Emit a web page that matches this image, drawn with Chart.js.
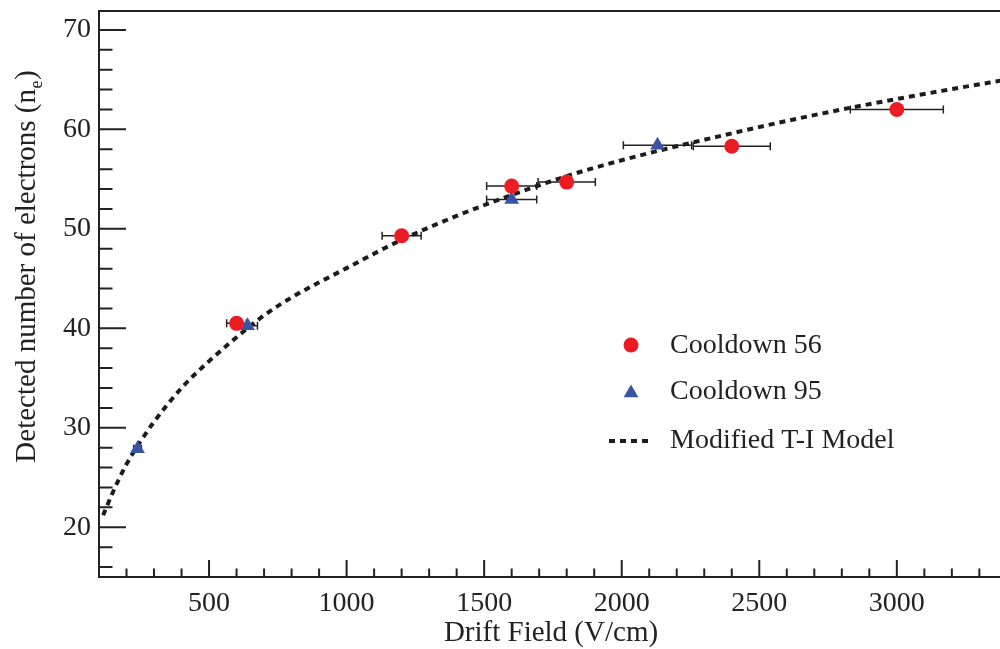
<!DOCTYPE html>
<html>
<head>
<meta charset="utf-8">
<title>Detected number of electrons vs drift field</title>
<script src="https://cdn.jsdelivr.net/npm/chart.js"></script>
<style>
  body { margin: 0; background: #fff; }
</style>
</head>
<body>
<canvas id="chart" width="1000" height="649"></canvas>
<script>
  // Cooldown 56 (red circles)
  var c56Field = [600, 1200, 1600, 1800, 2400, 3000];
  var c56Ne = [40.5, 49.3, 54.3, 54.7, 58.3, 62.0];
  var c56FieldErr = [36, 71, 91, 104, 140, 169];

  // Cooldown 95 (blue triangles)
  var c95Field = [240, 640, 1600, 2130];
  var c95Ne = [27.9, 40.25, 52.95, 58.4];
  var c95FieldErr = [14, 36, 91, 124];

  // Modified T-I model
  var modelField = [115, 150, 200, 250, 300, 400, 500, 600, 700, 800, 1000, 1200, 1400, 1600, 1800, 2000, 2200, 2400, 2600, 2800, 3000, 3200, 3400];
  var modelNe = [21.2, 23.5, 26.35, 28.6, 30.6, 34.0, 36.7, 39.1, 41.3, 43.1, 46.05, 48.9, 51.3, 53.4, 55.3, 56.9, 58.3, 59.6, 60.85, 62.0, 63.05, 64.05, 65.0];

  var xTicks = [500, 1000, 1500, 2000, 2500, 3000];
  var yTicks = [20, 30, 40, 50, 60, 70];

  var serif = '"Liberation Serif", "Times New Roman", serif';
  var ink = '#222';
  var red = '#ec1c24';
  var blue = '#3a54a4';

  function points(xs, ys) {
    return xs.map(function(x, i) { return { x: x, y: ys[i] }; });
  }

  function noPadding(s) {
    s.paddingTop = 0; s.paddingBottom = 0; s.paddingLeft = 0; s.paddingRight = 0;
  }

  // horizontal error bars with end caps
  var errorBars = {
    id: 'errorBars',
    beforeDatasetsDraw: function(chart) {
      var ctx = chart.ctx, xs = chart.scales.x, ys = chart.scales.y;
      ctx.save();
      ctx.strokeStyle = ink;
      ctx.lineWidth = 1.5;
      chart.data.datasets.forEach(function(ds) {
        if (!ds.xErr) return;
        ds.data.forEach(function(p, i) {
          var x0 = xs.getPixelForValue(p.x - ds.xErr[i]);
          var x1 = xs.getPixelForValue(p.x + ds.xErr[i]);
          var y = ys.getPixelForValue(p.y);
          ctx.beginPath();
          ctx.moveTo(x0, y); ctx.lineTo(x1, y);
          ctx.moveTo(x0, y - 4); ctx.lineTo(x0, y + 4);
          ctx.moveTo(x1, y - 4); ctx.lineTo(x1, y + 4);
          ctx.stroke();
        });
      });
      ctx.restore();
    }
  };

  // inward ticks, top frame line, axis titles, legend
  var frame = {
    id: 'frame',
    afterDraw: function(chart) {
      var ctx = chart.ctx, a = chart.chartArea, xs = chart.scales.x, ys = chart.scales.y;
      ctx.save();
      ctx.strokeStyle = ink;
      ctx.lineWidth = 2;
      ctx.beginPath();
      ctx.moveTo(a.left, a.top); ctx.lineTo(a.right, a.top);
      for (var v = 200; v <= 3300; v += 100) {
        var px = xs.getPixelForValue(v);
        var len = v % 500 === 0 ? 17 : 8.5;
        ctx.moveTo(px, a.bottom); ctx.lineTo(px, a.bottom - len);
      }
      for (var w = 16; w <= 70; w += 2) {
        var py = ys.getPixelForValue(w);
        var ln = w % 10 === 0 ? 27 : 13.5;
        ctx.moveTo(a.left, py); ctx.lineTo(a.left + ln, py);
      }
      ctx.stroke();

      ctx.fillStyle = ink;
      ctx.font = '29px ' + serif;
      ctx.textAlign = 'center';
      ctx.textBaseline = 'alphabetic';
      ctx.fillText('Drift Field (V/cm)', 551, 641);

      // y title with subscript
      var main = 'Detected number of electrons (n', sub = 'e', end = ')';
      ctx.translate(35, 267);
      ctx.rotate(-Math.PI / 2);
      ctx.font = '29px ' + serif;
      var w1 = ctx.measureText(main).width, w3 = ctx.measureText(end).width;
      ctx.font = '18px ' + serif;
      var w2 = ctx.measureText(sub).width;
      var x0 = -(w1 + w2 + w3) / 2;
      ctx.textAlign = 'left';
      ctx.font = '29px ' + serif;
      ctx.fillText(main, x0, 0);
      ctx.fillText(end, x0 + w1 + w2 + 1, 0);
      ctx.font = '18px ' + serif;
      ctx.fillText(sub, x0 + w1 + 0.5, 7);
      ctx.setTransform(1, 0, 0, 1, 0, 0);

      // legend
      var lx = 631;
      var rows = [353, 399, 448];
      var ds = chart.data.datasets;
      ctx.font = '28px ' + serif;
      ctx.textAlign = 'left';
      ctx.fillStyle = ds[0].backgroundColor;
      ctx.beginPath();
      ctx.arc(lx, rows[0] - 8, 7.5, 0, Math.PI * 2);
      ctx.fill();
      ctx.fillStyle = ds[1].backgroundColor;
      var ty = rows[1] - 6;
      ctx.beginPath();
      ctx.moveTo(lx, ty - 8.5);
      ctx.lineTo(lx + 7.4, ty + 4.3);
      ctx.lineTo(lx - 7.4, ty + 4.3);
      ctx.closePath();
      ctx.fill();
      ctx.strokeStyle = ds[2].borderColor;
      ctx.lineWidth = 4;
      ctx.setLineDash([6, 5]);
      ctx.beginPath();
      ctx.moveTo(609, rows[2] - 7); ctx.lineTo(652, rows[2] - 7);
      ctx.stroke();
      ctx.setLineDash([]);
      ctx.fillStyle = ink;
      ds.forEach(function(d, i) { ctx.fillText(d.label, 670, rows[i]); });
      ctx.restore();
    }
  };

  var ctx = document.getElementById('chart').getContext('2d');
  new Chart(ctx, {
    type: 'scatter',
    data: {
      datasets: [{
        label: 'Cooldown 56',
        data: points(c56Field, c56Ne),
        xErr: c56FieldErr,
        pointStyle: 'circle',
        pointRadius: 7.5,
        pointBorderWidth: 0,
        backgroundColor: red,
        borderColor: red,
        order: 1
      }, {
        label: 'Cooldown 95',
        data: points(c95Field, c95Ne),
        xErr: c95FieldErr,
        pointStyle: 'triangle',
        pointRadius: 8.5,
        pointBorderWidth: 0,
        backgroundColor: blue,
        borderColor: blue,
        order: 2
      }, {
        label: 'Modified T-I Model',
        data: points(modelField, modelNe),
        showLine: true,
        pointRadius: 0,
        borderColor: '#1c1c1c',
        backgroundColor: '#1c1c1c',
        borderWidth: 4,
        borderDash: [6, 5],
        cubicInterpolationMode: 'monotone',
        order: 3
      }]
    },
    options: {
      responsive: false,
      animation: false,
      devicePixelRatio: 1,
      layout: { autoPadding: false, padding: { top: 11, right: 0, left: 0, bottom: 0 } },
      plugins: {
        legend: { display: false },
        tooltip: { enabled: false }
      },
      scales: {
        x: {
          type: 'linear',
          min: 100,
          max: 3375,
          afterBuildTicks: function(s) { s.ticks = xTicks.map(function(v) { return { value: v }; }); },
          afterFit: function(s) { s.height = 72; noPadding(s); },
          grid: { display: false, drawTicks: false },
          border: { display: true, color: ink, width: 2 },
          ticks: { color: ink, font: { family: serif, size: 28 }, padding: 10, maxRotation: 0,
                   callback: function(v) { return String(v); } }
        },
        y: {
          min: 15,
          max: 71.9,
          afterBuildTicks: function(s) { s.ticks = yTicks.map(function(v) { return { value: v }; }); },
          afterFit: function(s) { s.width = 99; noPadding(s); },
          grid: { display: false, drawTicks: false },
          border: { display: true, color: ink, width: 2 },
          ticks: { color: ink, font: { family: serif, size: 28 }, padding: 8,
                   callback: function(v) { return String(v); } }
        }
      }
    },
    plugins: [errorBars, frame]
  });
</script>
</body>
</html>
